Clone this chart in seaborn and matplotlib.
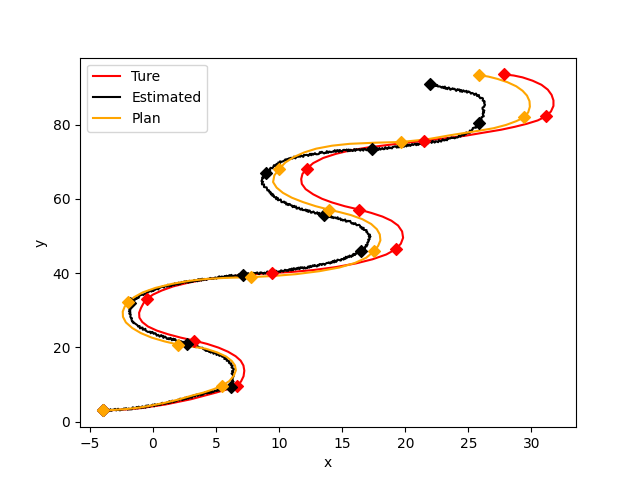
import matplotlib
matplotlib.use("Agg")
import matplotlib.pyplot as plt
import seaborn as sns

# True trajectory (red)
true_x = [-4.0, -3.0, -2.0, -1.0, 0.0, 1.0, 2.0, 3.0, 4.0, 5.0, 5.9, 6.65, 6.98, 7.18, 7.24, 7.17,
          6.95, 6.55, 5.95, 5.2, 4.3, 3.26, 2.2, 1.2, 0.3, -0.4, -0.85, -1.08, -1.1, -0.95, -0.75,
          -0.45, 0.0, 0.7, 1.6, 2.8, 4.2, 5.8, 7.6, 9.44, 11.0, 12.7, 14.5, 16.1, 17.4, 18.5,
          19.24, 19.65, 19.83, 19.75, 19.43, 18.9, 18.2, 17.3, 16.33, 15.2, 14.2, 13.4, 12.7,
          12.1, 11.8, 11.75, 11.85, 12.19, 12.7, 13.5, 14.5, 15.6, 17.0, 18.4, 19.6, 21.47,
          23.2, 24.8, 26.19, 27.6, 28.7, 29.64, 30.5, 31.15, 31.55, 31.75, 31.75, 31.6, 31.3,
          30.8, 30.1, 29.3, 28.6, 27.83]
true_y = [3.0, 3.1, 3.3, 3.6, 4.1, 4.6, 5.3, 6.0, 6.9, 7.8, 8.7, 9.5, 10.8, 12.2, 13.7, 15.1,
          16.4, 17.6, 18.8, 19.9, 20.9, 21.8, 22.6, 23.5, 24.5, 25.6, 26.8, 28.0, 29.3, 30.6, 31.9,
          33.1, 34.2, 35.3, 36.4, 37.4, 38.3, 39.0, 39.6, 40.0, 40.3, 40.8, 41.6, 42.6, 43.7, 45.0,
          46.4, 47.9, 49.5, 51.2, 52.8, 54.1, 55.2, 56.2, 57.1, 58.0, 59.0, 60.0, 61.2,
          62.6, 64.0, 65.3, 66.7, 68.1, 69.6, 71.0, 72.1, 73.0, 73.8, 74.4, 74.9, 75.6,
          76.3, 77.0, 77.8, 78.6, 79.4, 80.2, 81.1, 82.2, 83.5, 85.0, 86.5, 88.0, 89.4,
          90.7, 91.8, 92.7, 93.2, 93.5]
true_wx = [-4.0, 6.65, 3.26, -0.45, 9.44, 19.24, 16.33, 12.19, 21.47, 31.15, 27.83]
true_wy = [3.0, 9.5, 21.8, 33.1, 40.0, 46.4, 57.1, 68.1, 75.6, 82.2, 93.5]

# Estimated trajectory (black)
est_x = [-4.0, -3.0, -2.0, -1.0, 0.0, 1.0, 2.0, 3.0, 4.0, 4.9, 5.6, 6.18, 6.3, 6.38, 6.28, 6.36,
         6.2, 5.95, 5.5, 4.9, 4.2, 3.5, 2.73, 1.9, 1.0, 0.21, -0.5, -1.1, -1.45, -1.72, -1.78,
         -1.9, -1.75, -1.85, -1.4, -0.8, 0.1, 1.2, 2.5, 4.0, 5.6, 7.16, 8.6, 10.0, 11.3, 12.67,
         13.8, 14.79, 15.7, 16.52, 16.85, 17.0, 17.22, 17.1, 16.8, 16.3, 15.6, 14.7, 13.55, 12.4,
         11.4, 10.5, 9.8, 9.3, 8.95, 8.7, 8.6, 8.96, 9.5, 10.28, 11.2, 12.3, 13.4, 14.26, 15.8,
         17.4, 18.7, 20.0, 21.3, 22.6, 23.6, 24.5, 25.1, 25.5, 25.87, 26.1, 26.25, 26.18, 26.3,
         26.1, 25.8, 25.3, 24.6, 23.9, 23.2, 22.6, 21.95]
est_y = [3.0, 3.15, 3.4, 3.8, 4.3, 5.0, 5.8, 6.6, 7.5, 8.3, 8.8, 9.25, 10.5, 11.8, 13.0, 14.2,
         15.3, 16.4, 17.5, 18.4, 19.3, 20.1, 20.9, 21.8, 22.6, 23.5, 24.5, 25.5, 26.5, 27.5, 28.6,
         29.7, 30.8, 31.9, 33.1, 34.3, 35.5, 36.6, 37.5, 38.3, 39.0, 39.6, 40.0, 40.5, 41.1, 41.8,
         42.6, 43.5, 44.6, 45.9, 47.0, 48.2, 49.5, 50.6, 51.7, 52.8, 53.8, 54.7, 55.7, 56.6,
         57.6, 58.8, 60.1, 61.5, 62.9, 64.0, 65.2, 66.9, 68.6, 70.2, 71.1, 71.8, 72.4, 72.8, 73.1,
         73.3, 73.7, 74.3, 74.9, 75.5, 76.2, 77.1, 78.0, 79.1, 80.4, 81.8, 83.2, 84.6, 85.8,
         86.9, 87.8, 88.5, 89.0, 89.4, 89.9, 90.4, 91.0]
est_wx = [-4.0, 6.18, 2.73, -1.85, 7.16, 16.52, 13.55, 8.96, 17.4, 25.87, 21.95]
est_wy = [3.0, 9.25, 20.9, 31.9, 39.6, 45.9, 55.7, 66.9, 73.3, 80.4, 91.0]

# Planned trajectory (orange)
plan_x = [-4.0, -3.0, -2.0, -1.0, 0.0, 1.0, 2.0, 3.0, 4.0, 4.8, 5.51, 6.05, 6.4, 6.57, 6.5, 6.25,
          5.8, 5.1, 4.2, 3.1, 2.01, 0.9, -0.1, -0.95, -1.65, -2.15, -2.38, -2.4, -2.25, -1.96,
          -1.5, -0.8, 0.2, 1.53, 2.9, 4.19, 5.8, 7.79, 9.5, 11.35, 13.2, 14.79, 16.0, 16.9, 17.5,
          17.85, 18.03, 17.98, 17.75, 17.3, 16.6, 15.7, 14.8, 13.92, 12.9, 11.9, 11.0, 10.3, 9.8,
          9.52, 9.62, 10.02, 10.5, 11.2, 12.0, 12.94, 14.2, 15.59, 17.6, 19.7, 21.7, 23.54, 25.6,
          27.0, 28.0, 28.8, 29.42, 29.75, 29.88, 29.85, 29.65, 29.3, 28.8, 28.1, 27.3, 26.6, 25.87]
plan_y = [3.0, 3.15, 3.4, 3.8, 4.4, 5.1, 5.9, 6.9, 7.8, 8.7, 9.7, 10.9, 12.3, 13.8, 15.1, 16.3,
          17.5, 18.6, 19.6, 20.2, 20.7, 21.6, 22.6, 23.8, 25.2, 26.7, 28.2, 29.6, 30.9, 32.2,
          33.5, 34.8, 36.0, 37.1, 37.9, 38.4, 38.7, 38.9, 39.2, 39.7, 40.5, 41.5, 42.7, 44.1, 45.8,
          47.3, 48.8, 50.4, 51.8, 53.2, 54.5, 55.6, 56.4, 57.1, 58.0, 59.1, 60.3, 61.6, 63.0,
          64.5, 66.3, 68.1, 69.8, 71.3, 72.5, 73.5, 74.3, 74.8, 75.1, 75.3, 76.0, 77.1, 78.2,
          79.0, 79.9, 80.9, 81.9, 83.3, 84.8, 86.3, 87.8, 89.1, 90.3, 91.4, 92.3, 92.9, 93.3]
plan_wx = [-4.0, 5.51, 2.01, -1.96, 7.79, 17.5, 13.92, 10.02, 19.7, 29.42, 25.87]
plan_wy = [3.0, 9.7, 20.7, 32.2, 38.9, 45.8, 57.1, 68.1, 75.3, 81.9, 93.3]

series = [
    ("Ture", "red", true_x, true_y, true_wx, true_wy),
    ("Estimated", "black", est_x, est_y, est_wx, est_wy),
    ("Plan", "orange", plan_x, plan_y, plan_wx, plan_wy),
]

fig, ax = plt.subplots(figsize=(6.4, 4.8), dpi=100)

for name, col, xs, ys, wx, wy in series:
    sns.lineplot(x=xs, y=ys, sort=False, estimator=None, color=col, lw=1.5, label=name, ax=ax)
    if name == "Estimated":
        # the estimate is noisy: draw it with a slightly rough stroke
        ax.lines[-1].set_sketch_params(scale=1.0, length=2.5, randomness=2)

for name, col, xs, ys, wx, wy in series:
    sns.scatterplot(x=wx, y=wy, marker="D", s=36, color=col, edgecolor=col, linewidth=1,
                    ax=ax, zorder=3)

ax.set_xlabel("x")
ax.set_ylabel("y")
leg = ax.legend(loc="upper left")
for h in leg.legend_handles:
    h.set_sketch_params(None)
plt.savefig("out.png", dpi=100)
